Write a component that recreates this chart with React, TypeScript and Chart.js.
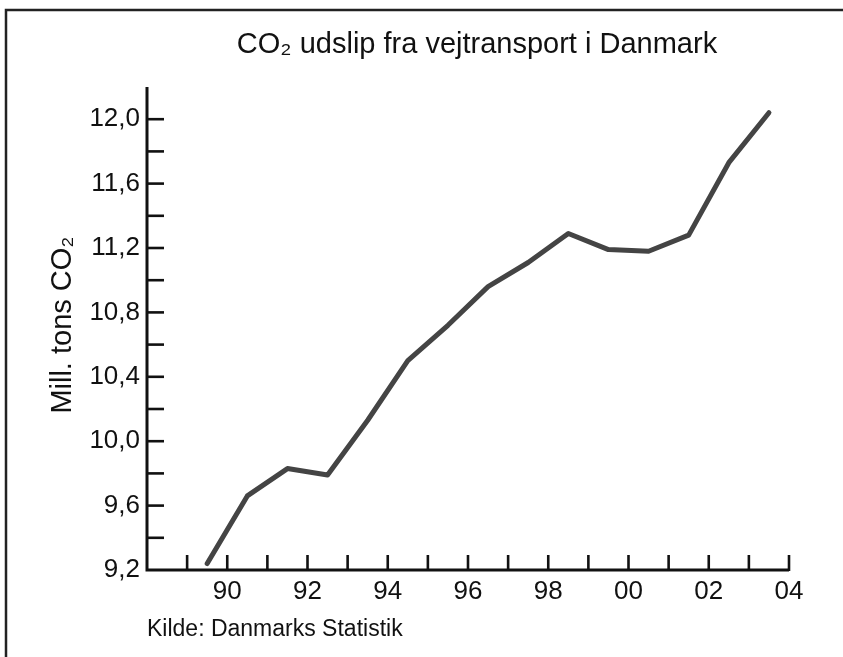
import React, { useEffect, useRef } from 'react';
import { Chart, registerables } from 'chart.js';

Chart.register(...registerables);

// ---- text ----
const chartTitle = 'CO₂ udslip fra vejtransport i Danmark';
const yAxisTitle = 'Mill. tons CO₂';
const sourceText = 'Kilde: Danmarks Statistik';

// ---- data (values are centred in each year's interval) ----
const years = [1990, 1991, 1992, 1993, 1994, 1995, 1996, 1997, 1998, 1999, 2000, 2001, 2002, 2003, 2004];
const emissions = [9.24, 9.66, 9.83, 9.79, 10.13, 10.5, 10.72, 10.96, 11.11, 11.29, 11.19, 11.18, 11.28, 11.73, 12.04];

// ---- axes ----
const xTickYears = [1988, 1989, 1990, 1991, 1992, 1993, 1994, 1995, 1996, 1997, 1998, 1999, 2000, 2001, 2002, 2003, 2004];
const xLabelYears = [1990, 1992, 1994, 1996, 1998, 2000, 2002, 2004];
const xTickLabels = ['90', '92', '94', '96', '98', '00', '02', '04'];
const yTickValues = [9.2, 9.4, 9.6, 9.8, 10.0, 10.2, 10.4, 10.6, 10.8, 11.0, 11.2, 11.4, 11.6, 11.8, 12.0, 12.2];
const yLabelValues = [9.2, 9.6, 10.0, 10.4, 10.8, 11.2, 11.6, 12.0];
const yTickLabels = ['9,2', '9,6', '10,0', '10,4', '10,8', '11,2', '11,6', '12,0'];

const FONT = '"Liberation Sans", Arial, sans-serif';
const INK = '#111111';

const findLabel = (vals: number[], labels: string[], v: number) => {
  const i = vals.findIndex((a) => Math.abs(a - v) < 1e-6);
  return i >= 0 ? labels[i] : '';
};

const decorPlugin = {
  id: 'decor',
  afterDraw(chart: any) {
    const { ctx, chartArea, scales } = chart;
    const xs = scales.x;
    const ys = scales.y;
    const left = chartArea.left;
    const bottom = chartArea.bottom;
    ctx.save();

    // frame (top and left edges visible)
    ctx.strokeStyle = '#222222';
    ctx.lineWidth = 2.5;
    ctx.beginPath();
    ctx.moveTo(6, chart.height);
    ctx.lineTo(6, 10);
    ctx.lineTo(chart.width, 10);
    ctx.stroke();

    // axis lines
    ctx.strokeStyle = INK;
    ctx.lineWidth = 3;
    ctx.beginPath();
    ctx.moveTo(left, chartArea.top);
    ctx.lineTo(left, bottom);
    ctx.lineTo(chartArea.right, bottom);
    ctx.stroke();

    // inward tick marks
    ctx.lineWidth = 2.6;
    ys.ticks.forEach((t: any) => {
      if (t.value <= 9.2 + 1e-6 || t.value > 12.05) return;
      const py = ys.getPixelForValue(t.value);
      ctx.beginPath();
      ctx.moveTo(left, py);
      ctx.lineTo(left + 17, py);
      ctx.stroke();
    });
    xs.ticks.forEach((t: any) => {
      if (t.value <= 1988 + 1e-6) return;
      const px = xs.getPixelForValue(t.value);
      ctx.beginPath();
      ctx.moveTo(px, bottom + 1);
      ctx.lineTo(px, bottom - 15);
      ctx.stroke();
    });

    // title
    ctx.fillStyle = INK;
    ctx.font = `29px ${FONT}`;
    ctx.textAlign = 'center';
    ctx.textBaseline = 'alphabetic';
    ctx.fillText(chartTitle, 477, 53);

    // y axis title
    ctx.save();
    ctx.translate(71, 325);
    ctx.rotate(-Math.PI / 2);
    ctx.font = `29px ${FONT}`;
    ctx.textAlign = 'center';
    ctx.textBaseline = 'alphabetic';
    ctx.fillText(yAxisTitle, 0, 0);
    ctx.restore();

    // source
    ctx.font = `23px ${FONT}`;
    ctx.textAlign = 'left';
    ctx.textBaseline = 'alphabetic';
    ctx.fillText(sourceText, 147, 636);

    ctx.restore();
  },
};

export default function App() {
  const ref = useRef<HTMLCanvasElement | null>(null);

  useEffect(() => {
    if (!ref.current) return;
    const chart = new Chart(ref.current, {
      type: 'line',
      data: {
        datasets: [
          {
            data: years.map((yr, i) => ({ x: yr - 0.5, y: emissions[i] })),
            borderColor: '#444444',
            borderWidth: 5,
            pointRadius: 0,
            tension: 0,
            borderJoinStyle: 'round',
            borderCapStyle: 'round',
            fill: false,
          },
        ],
      },
      options: {
        animation: false,
        responsive: false,
        devicePixelRatio: 1,
        layout: { padding: { top: 87, right: 54, left: 0, bottom: 0 } },
        plugins: {
          legend: { display: false },
          tooltip: { enabled: false },
          title: { display: false },
        },
        scales: {
          x: {
            type: 'linear',
            min: 1988,
            max: 2004,
            afterBuildTicks: (s: any) => {
              s.ticks = xTickYears.map((v) => ({ value: v }));
            },
            afterFit: (s: any) => {
              s.height = 87;
            },
            grid: { display: false, drawTicks: false },
            border: { display: false },
            ticks: {
              autoSkip: false,
              maxRotation: 0,
              padding: 6,
              color: INK,
              font: { family: FONT, size: 26 },
              callback: (v: any) => findLabel(xLabelYears, xTickLabels, Number(v)),
            },
          },
          y: {
            type: 'linear',
            min: 9.2,
            max: 12.2,
            afterBuildTicks: (s: any) => {
              s.ticks = yTickValues.map((v) => ({ value: v }));
            },
            afterFit: (s: any) => {
              s.width = 147;
            },
            grid: { display: false, drawTicks: false },
            border: { display: false },
            ticks: {
              autoSkip: false,
              padding: 7,
              color: INK,
              font: { family: FONT, size: 26 },
              callback: (v: any) => findLabel(yLabelValues, yTickLabels, Number(v)),
            },
          },
        },
      },
      plugins: [decorPlugin],
    } as any);
    return () => chart.destroy();
  }, []);

  return (
    <div style={{ position: 'absolute', left: 0, top: 0, width: 843, height: 657, background: '#ffffff' }}>
      <canvas ref={ref} width={843} height={657} style={{ display: 'block' }} />
    </div>
  );
}
